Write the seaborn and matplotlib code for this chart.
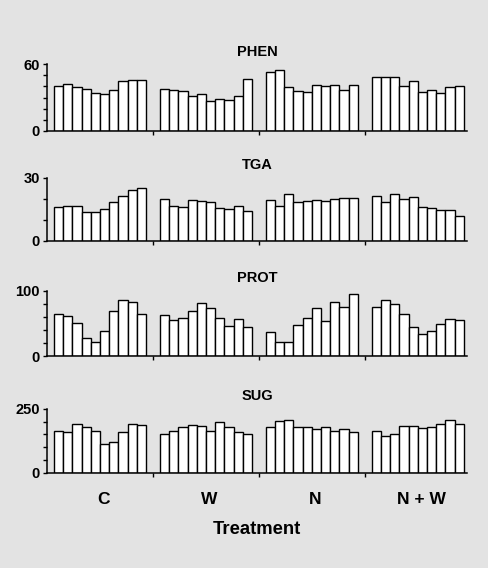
import numpy as np
import pandas as pd
import matplotlib
matplotlib.use("Agg")
import matplotlib.pyplot as plt
import matplotlib.transforms as mtransforms
import seaborn as sns

treatments = ["C", "W", "N", "N + W"]
panels = ["PHEN", "TGA", "PROT", "SUG"]

phen = [40, 42.5, 39, 38, 34, 33, 37, 44.5, 45.5, 45.5,
        38, 37, 36, 31, 33, 27, 29, 28, 31, 47,
        52.5, 54.5, 39, 36, 35, 41.5, 40, 41.5, 37, 41.5,
        48, 48, 48, 40, 44.5, 35, 37, 34, 39, 40]
tga = [16.3, 16.7, 16.7, 13.6, 13.6, 15.2, 18.3, 21.5, 24.3, 24.9,
       19.9, 16.7, 16.3, 19.4, 18.9, 18.3, 15.8, 15.2, 16.7, 14.1,
       19.4, 16.7, 22.1, 18.3, 18.9, 19.4, 18.9, 19.9, 20.5, 20.5,
       21.5, 18.3, 22.1, 19.9, 21.0, 16.3, 15.6, 14.5, 14.5, 11.7]
prot = [65, 62, 50, 28, 21, 39, 69, 86, 82, 65,
        63, 55, 58, 69, 81, 73.5, 58, 46, 56, 44.5,
        37, 21, 21, 47.5, 58, 73.5, 53, 82, 75.5, 95,
        75.5, 86, 79, 65, 44.5, 33.5, 39, 49.5, 56, 54.5]
sug = [165, 160, 191, 179, 165, 112, 121, 160, 191, 187,
       152, 165, 179, 187, 183, 165, 197, 179, 160, 152,
       179, 201, 206, 179, 179, 170, 179, 165, 170, 161,
       165, 144, 152, 183, 183, 174, 179, 192, 206, 192]
values = [phen, tga, prot, sug]
ymax = [60, 30, 100, 250]
ystep = [10, 10, 20, 50]

n_per = 10
period = 11.5

bg = "#e3e3e3"
plt.rcParams["font.family"] = ["Liberation Sans", "DejaVu Sans"]
plt.rcParams["font.weight"] = "bold"

fig = plt.figure(figsize=(4.88, 5.68), dpi=100, facecolor=bg)
W, H = 488, 568
left_px, right_px = 47, 467
rows = [(64, 131), (177.7, 241), (290.7, 356), (408.7, 473)]

for k, name in enumerate(panels):
    top, bot = rows[k]
    ax = fig.add_axes([left_px / W, 1 - bot / H, (right_px - left_px) / W, (bot - top) / H])
    ax.set_facecolor(bg)
    pos = [g * period + i for g in range(len(treatments)) for i in range(n_per)]
    df = pd.DataFrame({"pos": pos, "val": values[k]})
    sns.barplot(data=df, x="pos", y="val", native_scale=True, width=1.0,
                color="white", edgecolor="black", linewidth=1.0,
                errorbar=None, ax=ax)
    ax.set_xlim(-1.26, 44.35)
    ax.set_ylim(0, ymax[k])
    yt = np.arange(0, ymax[k] + 0.1, ystep[k])
    ax.set_yticks(yt)
    ax.set_yticklabels([str(int(v)) if v in (0, ymax[k]) else "" for v in yt],
                       fontsize=10.5, fontweight="bold")
    ax.set_xticks([g * period + 10.25 for g in range(3)])
    ax.set_xticklabels([])
    ax.tick_params(axis="both", length=3, width=1, direction="out", color="black", pad=2)
    for s in ["top", "right"]:
        ax.spines[s].set_visible(False)
    for s in ["left", "bottom"]:
        ax.spines[s].set_linewidth(1.1)
        ax.spines[s].set_color("black")
    ax.set_xlabel("")
    ax.set_ylabel("")
    ax.set_title(name, fontsize=10.5, fontweight="bold", pad=6)
    if k == len(panels) - 1:
        trans = mtransforms.blended_transform_factory(ax.transData, fig.transFigure)
        for g, t in enumerate(treatments):
            ax.text(g * period + 4.9, 1 - 500 / H, t, transform=trans,
                    ha="center", va="center", fontsize=12.5, fontweight="bold")
        fig.text((left_px + right_px) / 2 / W, 1 - 529 / H, "Treatment",
                 ha="center", va="center", fontsize=13.3, fontweight="bold")

fig.savefig("out.png", dpi=100, facecolor=bg)
